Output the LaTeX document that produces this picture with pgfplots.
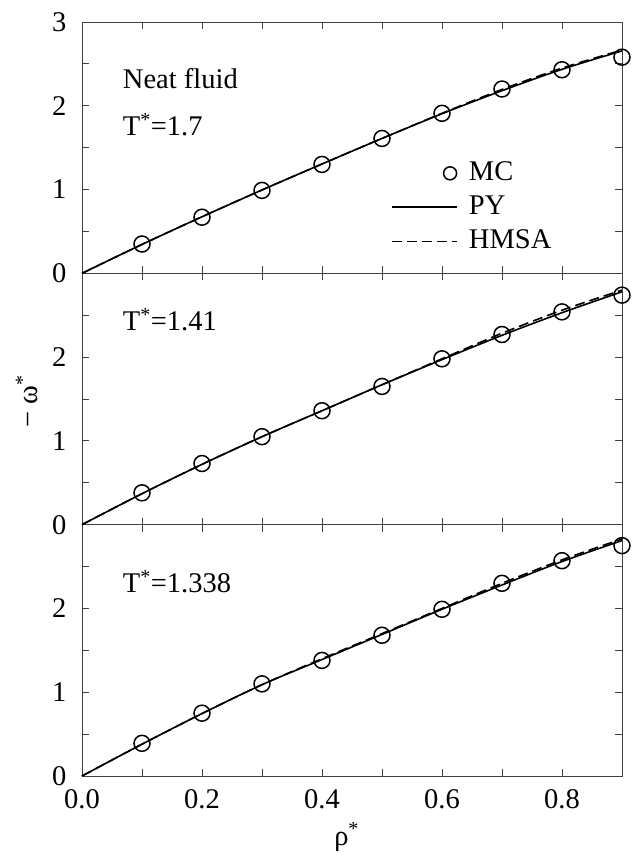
\documentclass[border=0pt]{standalone}
\usepackage{fontspec}
\setmainfont{Liberation Serif}
\usepackage{pgfplots}
\pgfplotsset{compat=1.18}
\usepackage{pgfplotstable}
\pgfplotstableread{
x y
0.1 0.35
0.2 0.67
0.3 0.99
0.4 1.30
0.5 1.61
0.6 1.91
0.7 2.20
0.8 2.43
0.9 2.58
}\mcA
\pgfplotstableread{
x y
0.0 0.0
0.1 0.345
0.2 0.675
0.3 0.995
0.4 1.305
0.5 1.61
0.6 1.905
0.7 2.18
0.8 2.435
0.9 2.655
}\pyA
\pgfplotstableread{
x y
0.0 0.0
0.1 0.345
0.2 0.675
0.3 0.995
0.4 1.305
0.5 1.61
0.6 1.91
0.7 2.195
0.8 2.45
0.9 2.665
}\hmA
\pgfplotstableread{
x y
0.1 0.38
0.2 0.73
0.3 1.05
0.4 1.36
0.5 1.65
0.6 1.98
0.7 2.27
0.8 2.54
0.9 2.74
}\mcB
\pgfplotstableread{
x y
0.0 0.0
0.1 0.37
0.2 0.72
0.3 1.05
0.4 1.36
0.5 1.67
0.6 1.97
0.7 2.26
0.8 2.53
0.9 2.78
}\pyB
\pgfplotstableread{
x y
0.0 0.0
0.1 0.37
0.2 0.72
0.3 1.05
0.4 1.36
0.5 1.67
0.6 1.98
0.7 2.285
0.8 2.56
0.9 2.80
}\hmB
\pgfplotstableread{
x y
0.1 0.39
0.2 0.75
0.3 1.10
0.4 1.38
0.5 1.68
0.6 1.99
0.7 2.30
0.8 2.57
0.9 2.75
}\mcC
\pgfplotstableread{
x y
0.0 0.0
0.1 0.38
0.2 0.745
0.3 1.09
0.4 1.39
0.5 1.69
0.6 1.99
0.7 2.28
0.8 2.56
0.9 2.81
}\pyC
\pgfplotstableread{
x y
0.0 0.0
0.1 0.38
0.2 0.745
0.3 1.09
0.4 1.40
0.5 1.70
0.6 2.00
0.7 2.30
0.8 2.58
0.9 2.83
}\hmC
\newcommand\bigfont{\fontsize{28.5}{32}\selectfont}
\tikzset{txt/.style={anchor=base west, inner sep=0pt, font=\bigfont}}
\pgfplotsset{
  panel/.style={
    scale only axis, width=540pt, height=251.33pt,
    xmin=0, xmax=0.9, ymin=0, ymax=3,
    xtick={0,0.2,0.4,0.6,0.8}, minor xtick={0.1,0.3,0.5,0.7},
    minor ytick={0.5,1.5,2.5},
    tick align=inside, major tick length=7pt, minor tick length=7pt,
    axis line style={line width=0.8pt, black!75},
    every tick/.append style={line width=0.8pt, black!75},
    tick label style={font=\bigfont},
    label style={font=\bigfont},
    /pgf/number format/assume math mode=true,
    xticklabel style={yshift=-4pt, /pgf/number format/.cd, fixed, fixed zerofill, precision=1},
    yticklabel style={xshift=-6pt},
    clip=false, anchor=south west,
  },
  mcstyle/.style={only marks, mark=o, mark size=8pt, mark options={line width=1.5pt, black}},
  pystyle/.style={black, line width=1.6pt, smooth},
  hmstyle/.style={black, line width=1.6pt, smooth, dash pattern=on 10pt off 5pt},
  mcleg/.style={legend image code/.code={\draw[##1, mark size=6.5pt, mark options={line width=1.5pt}] plot coordinates {(58pt,0pt)};}},
  lineleg/.style={legend image code/.code={\draw[##1, line width=1.8pt] (0pt,0pt) -- (65pt,0pt);}},
}
\begin{document}
\bigfont
\begin{tikzpicture}
\useasboundingbox (-82pt,-79pt) rectangle (551pt,776pt);
% bottom panel
\begin{axis}[panel, at={(0pt,0pt)}, ytick={0,1,2},
  xlabel={ρ\textsuperscript{*}},
  xlabel style={at={(axis description cs:0.49,0)}, anchor=base, yshift=-69pt},
]
\addplot[mcstyle] table {\mcC};
\addplot[pystyle] table {\pyC};
\addplot[hmstyle] table {\hmC};
\node[txt] at (axis cs:0.068,2.19) {T\textsuperscript{*}=1.338};
\end{axis}
% middle panel
\begin{axis}[panel, at={(0pt,251.33pt)}, ytick={0,1,2}, xticklabels={},
  ylabel={− ω\textsuperscript{*}},
  ylabel style={at={(axis description cs:-0.102,0.49)}, anchor=center},
]
\addplot[mcstyle] table {\mcB};
\addplot[pystyle] table {\pyB};
\addplot[hmstyle] table {\hmB};
\node[txt] at (axis cs:0.068,2.32) {T\textsuperscript{*}=1.41};
\end{axis}
% top panel
\begin{axis}[panel, at={(0pt,502.67pt)}, ytick={0,1,2,3}, xticklabels={},
  legend style={draw=none, fill=none, at={(axis cs:0.51,1.37)}, anchor=north west,
    row sep=9pt, font=\bigfont, nodes={inner xsep=11pt, inner ysep=1pt}},
  legend cell align=left,
]
\addplot[mcstyle, mcleg] table {\mcA};
\addlegendentry{MC}
\addplot[pystyle, lineleg] table {\pyA};
\addlegendentry{PY}
\addplot[hmstyle, lineleg] table {\hmA};
\addlegendentry{HMSA}
\node[txt] at (axis cs:0.068,2.21) {Neat fluid};
\node[txt] at (axis cs:0.068,1.65) {T\textsuperscript{*}=1.7};
\end{axis}
\end{tikzpicture}
\end{document}
